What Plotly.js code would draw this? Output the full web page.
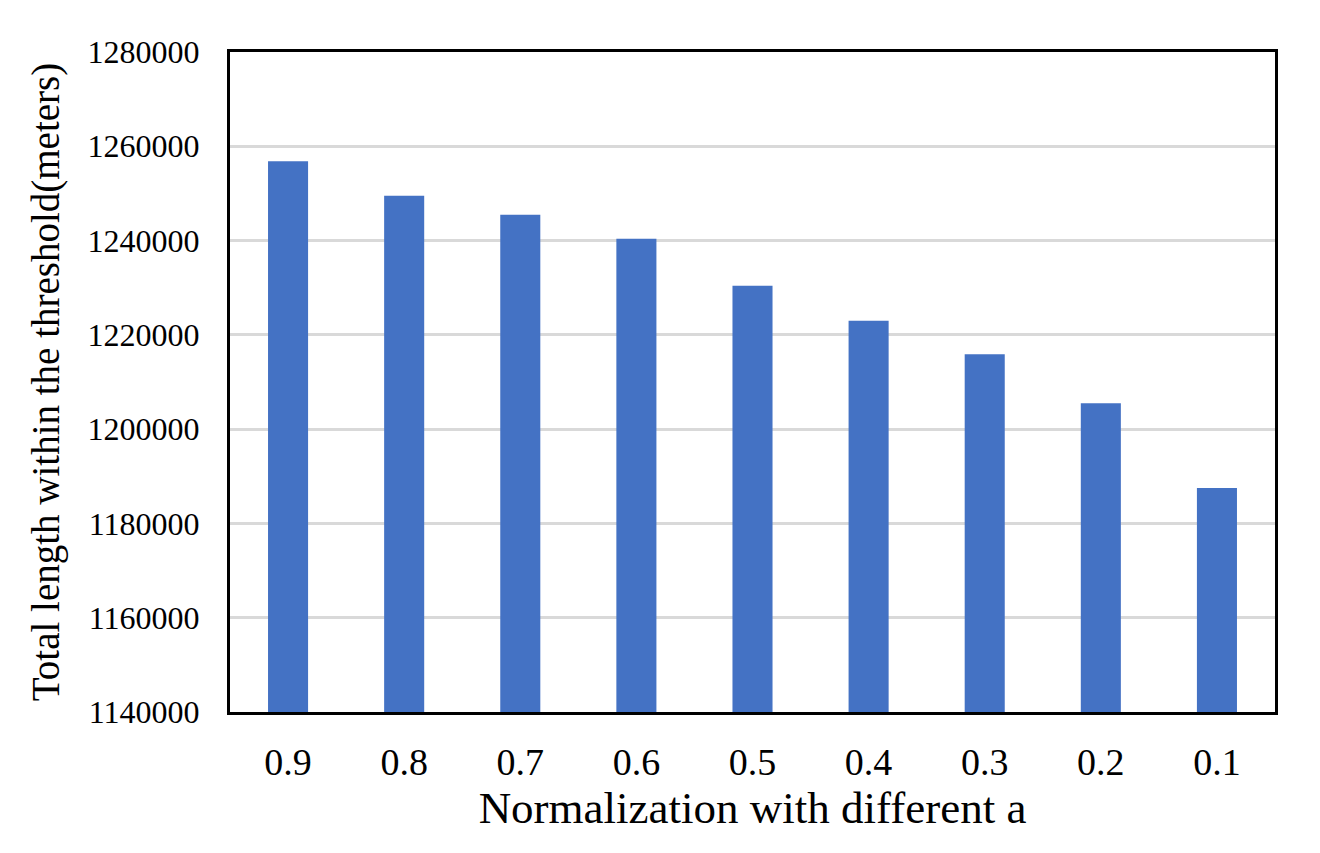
<!DOCTYPE html>
<html>
<head>
<meta charset="utf-8">
<script src="https://cdn.plot.ly/plotly-3.0.1.min.js"></script>
<style>html,body{margin:0;padding:0;background:#fff;}#chart{width:1320px;height:853px;}</style>
</head>
<body>
<div id="chart"></div>
<script>
const categories = ["0.9","0.8","0.7","0.6","0.5","0.4","0.3","0.2","0.1"];
const totalLength = [1256800, 1249500, 1245500, 1240400, 1230400, 1223000, 1215900, 1205500, 1187500];
const yTickValues = [1140000,1160000,1180000,1200000,1220000,1240000,1260000,1280000];
const xTitle = "Normalization with different a";
const yTitle = "Total length within the threshold(meters)";

const fontFamily = "Liberation Serif, Times New Roman, serif";

Plotly.newPlot("chart", [{
  type: "bar",
  x: categories,
  y: totalLength,
  marker: {color: "#4472c4"},
  hoverinfo: "x+y"
}], {
  width: 1320, height: 853,
  margin: {l: 230, r: 45, t: 52, b: 141},
  paper_bgcolor: "#fff", plot_bgcolor: "#fff",
  bargap: 0.655,
  showlegend: false,
  font: {family: fontFamily, color: "#000"},
  xaxis: {
    type: "category",
    showline: true, mirror: true, linecolor: "#000", linewidth: 3,
    ticks: "", ticklabelstandoff: 14,
    tickfont: {size: 38, family: fontFamily, color: "#000"},
    title: {text: xTitle, font: {size: 45, family: fontFamily, color: "#000"}, standoff: 4}
  },
  yaxis: {
    range: [1140000, 1280000],
    tickvals: yTickValues,
    ticktext: yTickValues.map(String),
    showline: true, mirror: true, linecolor: "#000", linewidth: 3,
    showgrid: true, gridcolor: "#d9d9d9", gridwidth: 3,
    zeroline: false,
    ticks: "", ticklabelstandoff: 21,
    tickfont: {size: 32, family: fontFamily, color: "#000"},
    title: {text: yTitle, font: {size: 39, family: fontFamily, color: "#000"}, standoff: 16}
  }
}, {displayModeBar: false, staticPlot: true});
</script>
</body>
</html>
